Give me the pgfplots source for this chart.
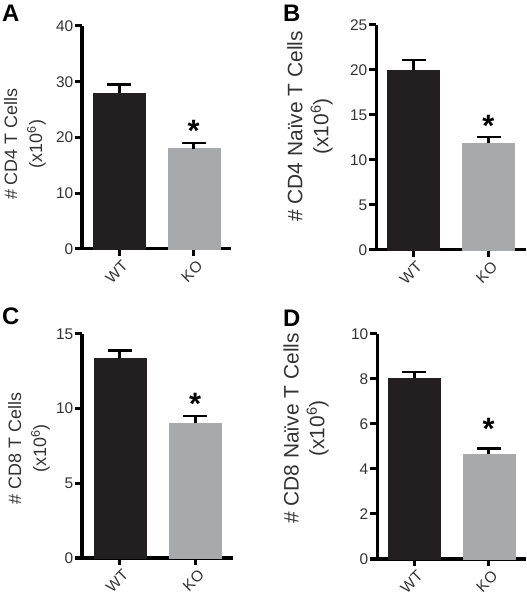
\documentclass[border=0pt]{standalone}
\usepackage{fontspec}
\setmainfont{Liberation Sans}
\usepackage{pgfplots}
\pgfplotsset{compat=1.18}

\definecolor{barwt}{HTML}{231F20}
\definecolor{barko}{HTML}{A7A9AC}
\definecolor{txt}{HTML}{333333}

\pgfplotsset{
  panel/.style={
    scale only axis, anchor=south west, clip=false,
    axis lines=left,
    axis line style={-, line width=3bp, black},
    xmin=-0.5, xmax=1.5, ymin=0,
    xtick={0,1}, xticklabels={WT,KO},
    tick align=outside, major tick length=7bp,
    tick style={line width=3bp, black},
    minor tick num=0,
    x tick label style={rotate=45, anchor=north east, inner sep=1bp, yshift=-3bp,
      font=\fontsize{15.5}{15.5}\selectfont, text=txt},
    y tick label style={font=\fontsize{15.5}{15.5}\selectfont, text=txt, inner sep=1.5bp},
    /pgf/number format/assume math mode=true,
    ylabel style={align=center, anchor=center, text=txt},
  },
  wt/.style={ybar, bar width=52bp, bar shift=0pt, fill=barwt, draw=barwt, line width=0.3bp,
    error bars/.cd, y dir=plus, y explicit,
    error bar style={line width=2.6bp, draw=black},
    error mark options={rotate=90, line width=2.6bp, draw=black, mark size=12bp}},
  ko/.style={ybar, bar width=52bp, bar shift=0pt, fill=barko, draw=barko, line width=0.3bp,
    error bars/.cd, y dir=plus, y explicit,
    error bar style={line width=2.6bp, draw=black},
    error mark options={rotate=90, line width=2.6bp, draw=black, mark size=12bp}},
  star/.style={draw=none, mark=none,
    nodes near coords={\bfseries *},
    every node near coord/.style={font=\fontsize{31}{31}\selectfont, anchor=base,
      inner sep=0pt, yshift=-17.5bp, text=black}},
}

\begin{document}
\begin{tikzpicture}
\useasboundingbox (0,0) rectangle (527bp,600bp);

% Panel A
\begin{axis}[panel, at={(82bp,351bp)}, width=149bp, height=223bp,
  ymax=40, ytick={0,10,20,30,40},
  ylabel={\# CD4 T Cells\\(x10\textsuperscript{6})},
  ylabel style={font=\fontsize{18}{25}\selectfont, at={(axis description cs:-0.383,0.47)}}]
\addplot[wt] coordinates {(0,28.0) +- (0,1.5)};
\addplot[ko] coordinates {(1,18.0) +- (0,1.0)};
\addplot[star] coordinates {(1,22.4)};
\end{axis}

% Panel B
\begin{axis}[panel, at={(376bp,350bp)}, width=150bp, height=225bp,
  ymax=25, ytick={0,5,10,15,20,25},
  ylabel={\# CD4 Naïve T Cells\\(x10\textsuperscript{6})},
  ylabel style={font=\fontsize{21}{26}\selectfont, at={(axis description cs:-0.44,0.549)}}]
\addplot[wt] coordinates {(0,20.0) +- (0,1.1)};
\addplot[ko] coordinates {(1,11.85) +- (0,0.7)};
\addplot[star] coordinates {(1,14.5)};
\end{axis}

% Panel C
\begin{axis}[panel, at={(82bp,42bp)}, width=151bp, height=224bp,
  ymax=15, ytick={0,5,10,15},
  ylabel={\# CD8 T Cells\\(x10\textsuperscript{6})},
  ylabel style={font=\fontsize{18}{25}\selectfont, at={(axis description cs:-0.351,0.49)}}]
\addplot[wt] coordinates {(0,13.39) +- (0,0.49)};
\addplot[ko] coordinates {(1,9.05) +- (0,0.47)};
\addplot[star] coordinates {(1,10.8)};
\end{axis}

% Panel D
\begin{axis}[panel, at={(377bp,41bp)}, width=149bp, height=225bp,
  ymax=10, ytick={0,2,4,6,8,10},
  ylabel={\# CD8 Naïve T Cells\\(x10\textsuperscript{6})},
  ylabel style={font=\fontsize{21}{26}\selectfont, at={(axis description cs:-0.476,0.58)}}]
\addplot[wt] coordinates {(0,8.03) +- (0,0.28)};
\addplot[ko] coordinates {(1,4.67) +- (0,0.23)};
\addplot[star] coordinates {(1,6.08)};
\end{axis}

\node[anchor=north west, inner sep=0pt, font=\fontsize{24}{24}\selectfont\bfseries] at (2bp,595bp) {A};
\node[anchor=north west, inner sep=0pt, font=\fontsize{24}{24}\selectfont\bfseries] at (283bp,595bp) {B};
\node[anchor=north west, inner sep=0pt, font=\fontsize{24}{24}\selectfont\bfseries] at (2bp,292bp) {C};
\node[anchor=north west, inner sep=0pt, font=\fontsize{24}{24}\selectfont\bfseries] at (283bp,290bp) {D};
\end{tikzpicture}
\end{document}
